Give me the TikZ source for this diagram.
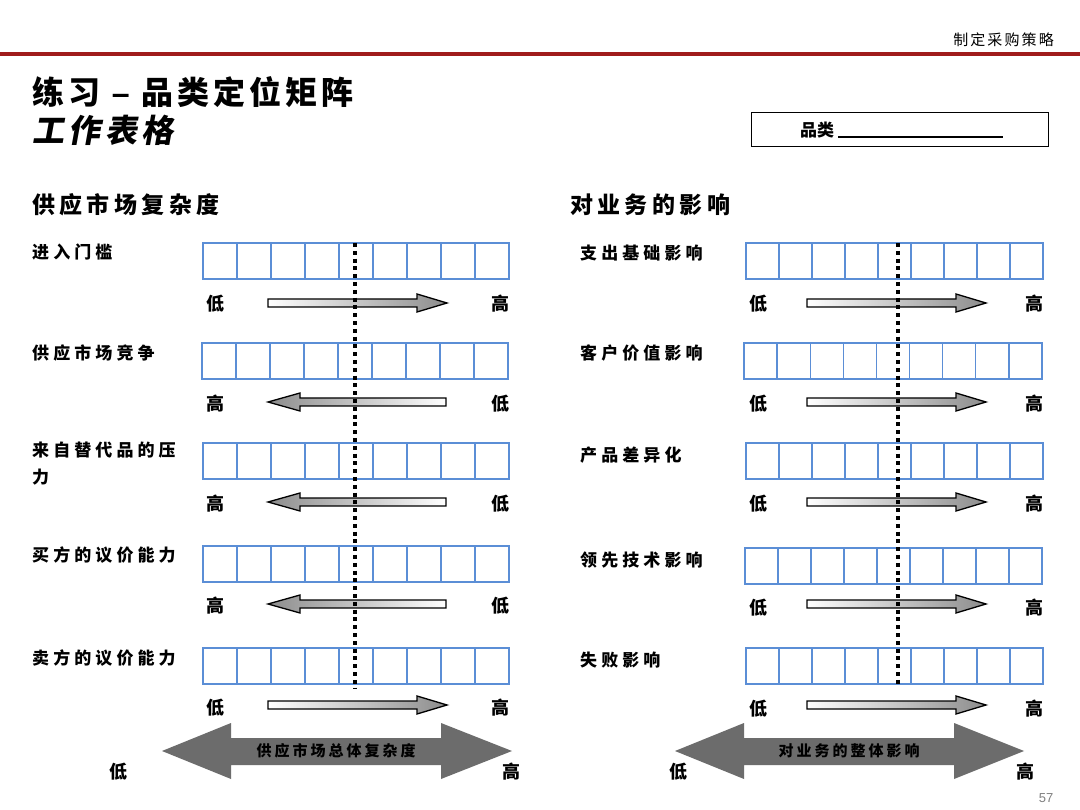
\documentclass[tikz,border=0pt]{standalone}
\usepackage{fontspec}
\setmainfont{Noto Sans CJK SC}
\setsansfont{Liberation Sans}
\newfontfamily\cjklbl[LetterSpace=24]{Noto Sans CJK SC}
\newfontfamily\cjkhead[LetterSpace=19]{Noto Sans CJK SC}
\newfontfamily\cjktitle[LetterSpace=13]{Noto Sans CJK SC}
\newfontfamily\cjkslant[LetterSpace=14,FakeSlant=0.18]{Noto Sans CJK SC}
\newfontfamily\cjksmall[LetterSpace=20]{Noto Sans CJK SC}
\newfontfamily\cjktop[LetterSpace=14]{Noto Sans CJK SC}
\newfontfamily\dashfont{Liberation Sans}
\definecolor{hdrred}{HTML}{A01C1C}
\definecolor{cellblue}{HTML}{5B8ED6}
\definecolor{bigarrow}{HTML}{6C6C6C}
\definecolor{pagegray}{HTML}{808080}
\newcommand\cellrow[4]{%
  \foreach \i in {0,...,8}{\node[cell,minimum width={#4/9}] (#1\i) at ({#2+\i*#4/9},#3) {};}}
\newcommand\arrR[3]{% xtail, xtip, y
  \path[smallarr,left color=white,right color=black!45]
    (#1,{#3-4}) -- ({#2-30},{#3-4}) -- ({#2-30},{#3-9}) -- (#2,#3) -- ({#2-30},{#3+9}) -- ({#2-30},{#3+4}) -- (#1,{#3+4}) -- cycle;}
\newcommand\arrL[3]{% xtip, xtail, y
  \path[smallarr,left color=black!45,right color=white]
    (#2,{#3-4}) -- ({#1+32},{#3-4}) -- ({#1+32},{#3-9}) -- (#1,#3) -- ({#1+32},{#3+9}) -- ({#1+32},{#3+4}) -- (#2,{#3+4}) -- cycle;}
\newcommand\bigdbl[4]{% xleft tip, x head base left, x head base right, x right tip
  \fill[bigarr] (#1,751) -- (#2,723) -- (#2,738) -- (#3,738) -- (#3,723) -- (#4,751) -- (#3,779) -- (#3,765) -- (#2,765) -- (#2,779) -- cycle;}
\begin{document}
\begin{tikzpicture}[x=1pt,y=-1pt,
  cell/.style={draw=cellblue,line width=1.3pt,minimum height=36pt,inner sep=0pt,outer sep=0pt,anchor=north west},
  lbl/.style={anchor=west,inner sep=0pt,font=\cjklbl\bfseries\fontsize{17}{27}\selectfont,align=left},
  sechead/.style={anchor=west,inner sep=0pt,font=\cjkhead\bfseries\fontsize{23}{28}\selectfont},
  lohi/.style={inner sep=0pt,font=\bfseries\fontsize{18}{20}\selectfont},
  smallarr/.style={draw=black,line width=1.3pt},
  bigarr/.style={fill=bigarrow},
  bigtext/.style={inner sep=0pt,font=\cjksmall\bfseries\fontsize{15}{18}\selectfont},
  dotline/.style={line width=3.5pt,dash pattern=on 4pt off 3.8pt}]
\useasboundingbox (0,0) rectangle (1080,810);
\fill[white] (0,0) rectangle (1080,810);

% header
\node[anchor=east,inner sep=0pt,font=\cjktop\fontsize{15}{18}\selectfont] (hdr) at (1054,40) {制定采购策略};
\coordinate (redL) at (0,54);
\coordinate (redR) at (1080,54);
\draw[hdrred,line width=3.5pt] (redL) -- (redR);

% title
\node[anchor=west,inner sep=0pt,font=\cjktitle\bfseries\fontsize{32}{36}\selectfont] (title1) at (32,92) {练习 {\dashfont\bfseries –} 品类定位矩阵};
\node[anchor=west,inner sep=0pt,font=\cjkslant\bfseries\fontsize{32}{36}\selectfont] (title2) at (32,130) {工作表格};

% category box
\node[draw=black,line width=1.3pt,minimum width=297,minimum height=34,inner sep=0pt,anchor=north west] (catbox) at (751,112) {};
\node[anchor=west,inner sep=0pt,font=\bfseries\fontsize{17}{20}\selectfont] (cattext) at (800,130) {品类};
\coordinate (ulA) at (838,137);
\coordinate (ulB) at (1003,137);
\draw[line width=2pt] (ulA) -- (ulB);

% section headings
\node[sechead] (hleft) at (32,205) {供应市场复杂度};
\node[sechead] (hright) at (570,205) {对业务的影响};

% left labels
\node[lbl] (l1) at (32,252) {进入门槛};
\node[lbl] (l2) at (32,353) {供应市场竞争};
\node[lbl,anchor=north west] (l3) at (32,442) {来自替代品的压\\力};
\node[lbl] (l4) at (32,555) {买方的议价能力};
\node[lbl] (l5) at (32,658) {卖方的议价能力};

% right labels
\node[lbl] (r1) at (580,253) {支出基础影响};
\node[lbl] (r2) at (580,353) {客户价值影响};
\node[lbl] (r3) at (580,455) {产品差异化};
\node[lbl] (r4) at (580,560) {领先技术影响};
\node[lbl] (r5) at (580,660) {失败影响};

% grids
\cellrow{La}{203}{243}{306}
\cellrow{Lb}{202}{343}{306}
\cellrow{Lc}{203}{443}{306}
\cellrow{Ld}{203}{546}{306}
\cellrow{Le}{203}{648}{306}
\cellrow{Ra}{746}{243}{297}
\cellrow{Rb}{744}{343}{298}
\cellrow{Rc}{746}{443}{297}
\cellrow{Rd}{745}{548}{297}
\cellrow{Re}{746}{648}{297}

% small arrows left
\arrR{268}{447}{303}
\arrL{268}{446}{402}
\arrL{268}{446}{502}
\arrL{268}{446}{604}
\arrR{268}{447}{705}
% small arrows right
\arrR{807}{986}{303}
\arrR{807}{986}{402}
\arrR{807}{986}{502}
\arrR{807}{986}{604}
\arrR{807}{986}{705}

% low/high labels left
\node[lohi] (la1) at (215,304) {低}; \node[lohi] (lb1) at (500,304) {高};
\node[lohi] (la2) at (215,404) {高}; \node[lohi] (lb2) at (500,404) {低};
\node[lohi] (la3) at (215,504) {高}; \node[lohi] (lb3) at (500,504) {低};
\node[lohi] (la4) at (215,606) {高}; \node[lohi] (lb4) at (500,606) {低};
\node[lohi] (la5) at (215,708) {低}; \node[lohi] (lb5) at (500,708) {高};
% low/high labels right
\node[lohi] (ra1) at (758,304) {低}; \node[lohi] (rb1) at (1034,304) {高};
\node[lohi] (ra2) at (758,404) {低}; \node[lohi] (rb2) at (1034,404) {高};
\node[lohi] (ra3) at (758,504) {低}; \node[lohi] (rb3) at (1034,504) {高};
\node[lohi] (ra4) at (758,608) {低}; \node[lohi] (rb4) at (1034,608) {高};
\node[lohi] (ra5) at (758,709) {低}; \node[lohi] (rb5) at (1034,709) {高};

% dotted lines
\coordinate (dlT) at (355,243);
\coordinate (dlB) at (355,688);
\coordinate (drT) at (898,243);
\coordinate (drB) at (898,686);
\draw[dotline] (dlT) -- (dlB);
\draw[dotline] (drT) -- (drB);

% big double arrows
\bigdbl{162}{231}{441}{512}
\bigdbl{675}{744}{954}{1024}
\node[bigtext] (bigL) at (336,751) {供应市场总体复杂度};
\node[bigtext] (bigR) at (849,751) {对业务的整体影响};
\node[lohi] (bl1) at (118,772) {低}; \node[lohi] (bh1) at (511,772) {高};
\node[lohi] (bl2) at (678,772) {低}; \node[lohi] (bh2) at (1025,772) {高};

% page number
\node[inner sep=0pt,text=pagegray,font=\sffamily\fontsize{13}{15}\selectfont] (page) at (1046,798) {57};
\end{tikzpicture}
\end{document}
